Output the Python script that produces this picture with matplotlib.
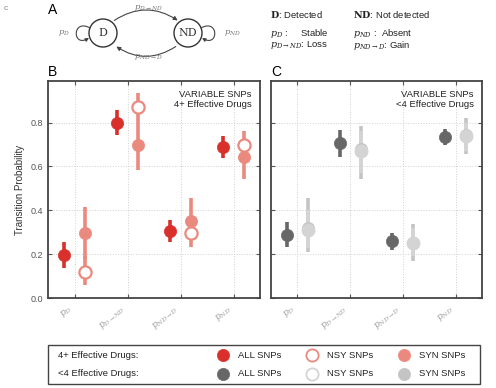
import numpy as np
import matplotlib.pyplot as plt
from matplotlib.patches import Circle, FancyArrowPatch, Rectangle
from matplotlib.path import Path

# transition labels
trans = [r'$p_{D}$', r'$p_{D\rightarrow ND}$', r'$p_{ND\rightarrow D}$', r'$p_{ND}$']

# panel B: 4+ effective drugs  (value, low, high)
b_all = [0.195, 0.80, 0.306, 0.687]
b_all_lo = [0.135, 0.742, 0.257, 0.637]
b_all_hi = [0.254, 0.858, 0.358, 0.739]
b_nsy = [0.119, 0.873, 0.296, 0.698]
b_nsy_lo = [0.059, 0.80, 0.233, 0.66]
b_nsy_hi = [0.19, 0.937, 0.33, 0.762]
b_syn = [0.296, 0.698, 0.350, 0.643]
b_syn_lo = [0.18, 0.582, 0.31, 0.541]
b_syn_hi = [0.414, 0.80, 0.457, 0.70]

# panel C: <4 effective drugs
c_all = [0.288, 0.706, 0.259, 0.736]
c_all_lo = [0.232, 0.645, 0.221, 0.699]
c_all_hi = [0.349, 0.765, 0.297, 0.773]
c_nsy = [0.31, 0.67, 0.25, 0.74]
c_nsy_lo = [0.23, 0.57, 0.19, 0.67]
c_nsy_hi = [0.40, 0.76, 0.32, 0.80]
c_syn = [0.32, 0.678, 0.253, 0.744]
c_syn_lo = [0.212, 0.541, 0.171, 0.657]
c_syn_hi = [0.456, 0.783, 0.338, 0.823]

red = '#d9302b'
salmon = '#ea8a7e'
dgray = '#676767'
lgray = '#c4c4c4'
nsygray = '#d4d4d4'

W, H = 496, 388
fig = plt.figure(figsize=(W / 100, H / 100), dpi=100)
plt.rcParams['font.family'] = ['Liberation Sans', 'DejaVu Sans']
plt.rcParams['mathtext.fontset'] = 'dejavuserif'


def err(ax, x, y, lo, hi, color, face, mew=0):
    y = np.array(y)
    yerr = [y - np.array(lo), np.array(hi) - y]
    ax.errorbar(x, y, yerr=yerr, fmt='o', color=color, ecolor=color,
                elinewidth=2.6, capsize=0, markersize=8.8,
                markerfacecolor=face, markeredgecolor=color,
                markeredgewidth=mew if mew else 0.5, zorder=3)


def style(ax, ylabels):
    ax.set_xlim(-0.5, 3.5)
    ax.set_ylim(0, 0.99)
    ax.set_yticks([0.0, 0.2, 0.4, 0.6, 0.8])
    ax.set_xticks(range(4))
    ax.set_xticklabels(trans, rotation=40, ha='right', color='#a0a0a0',
                       fontsize=7.5)
    ax.tick_params(direction='in', top=True, right=True, length=3,
                   color='#555555', labelsize=6.5, labelcolor='#555555')
    ax.tick_params(axis='x', pad=4, labelcolor='#a0a0a0')
    if not ylabels:
        ax.set_yticklabels([])
    ax.grid(True, linestyle=':', color='#d0d0d0', linewidth=0.7)
    ax.set_axisbelow(True)
    for s in ax.spines.values():
        s.set_color('#444444')
        s.set_linewidth(1.3)


x = np.arange(4)
axB = fig.add_axes([48 / W, 1 - 298 / H, 212 / W, 217 / H])
err(axB, x - 0.2, b_all, b_all_lo, b_all_hi, red, red)
err(axB, x + 0.2, b_syn, b_syn_lo, b_syn_hi, salmon, salmon)
err(axB, x + 0.2, b_nsy, b_nsy_lo, b_nsy_hi, salmon, 'white', mew=1.6)
style(axB, True)
axB.set_ylabel('Transition Probability', fontsize=7, color='#333333')
axB.text(0.96, 0.96, 'VARIABLE SNPs\n4+ Effective Drugs', transform=axB.transAxes,
         ha='right', va='top', fontsize=6.8, color='#222222', linespacing=1.2)

axC = fig.add_axes([271 / W, 1 - 298 / H, 211 / W, 217 / H])
err(axC, x - 0.2, c_all, c_all_lo, c_all_hi, dgray, dgray)
err(axC, x + 0.2, c_syn, c_syn_lo, c_syn_hi, lgray, lgray)
err(axC, x + 0.2, c_nsy, c_nsy_lo, c_nsy_hi, nsygray, nsygray, mew=1.2)
style(axC, False)
axC.text(0.96, 0.96, 'VARIABLE SNPs\n<4 Effective Drugs', transform=axC.transAxes,
         ha='right', va='top', fontsize=6.8, color='#222222', linespacing=1.2)

# overlay in pixel coordinates for diagram, panel letters, legend
ov = fig.add_axes([0, 0, 1, 1], zorder=-1)
ov.set_xlim(0, W)
ov.set_ylim(H, 0)
ov.axis('off')

ov.text(4, 8, 'c', fontsize=6, color='#888888', va='center')
ov.text(48, 10, 'A', fontsize=10, va='center')
ov.text(48, 72, 'B', fontsize=10, va='center')
ov.text(271, 72, 'C', fontsize=10, va='center')

# state diagram
dc, ndc, r = (103, 33), (188, 33), 14
for (cx, cy), lab in [(dc, 'D'), (ndc, 'ND')]:
    ov.add_patch(Circle((cx, cy), r, fill=False, ec='#333333', lw=1.0))
    ov.text(cx, cy, lab, ha='center', va='center', fontsize=8,
            family='DejaVu Serif', color='#333333')
ov.add_patch(FancyArrowPatch((112, 22), (180, 22), connectionstyle='arc3,rad=-0.35',
                             arrowstyle='-|>', mutation_scale=6, lw=0.8, color='#444444'))
ov.add_patch(FancyArrowPatch((178, 45), (114, 45), connectionstyle='arc3,rad=-0.35',
                             arrowstyle='-|>', mutation_scale=6, lw=0.8, color='#444444'))
loopL = Path([(90, 28), (72, 18), (72, 48), (89, 38)],
             [Path.MOVETO, Path.CURVE4, Path.CURVE4, Path.CURVE4])
loopR = Path([(201, 28), (219, 18), (219, 48), (202, 38)],
             [Path.MOVETO, Path.CURVE4, Path.CURVE4, Path.CURVE4])
for p in (loopL, loopR):
    ov.add_patch(FancyArrowPatch(path=p, arrowstyle='-|>', mutation_scale=5,
                                 lw=0.8, color='#444444'))
ov.text(148, 8, r'$p_{D\rightarrow ND}$', ha='center', va='center', fontsize=6, color='#777777')
ov.text(148, 57, r'$p_{ND\rightarrow D}$', ha='center', va='center', fontsize=6, color='#777777')
ov.text(70, 33, r'$p_{D}$', ha='right', va='center', fontsize=6, color='#777777')
ov.text(224, 33, r'$p_{ND}$', ha='left', va='center', fontsize=6, color='#777777')

# key text
kw = dict(fontsize=6.8, va='center', color='#222222')
ov.text(270, 15, r'$\mathbf{D}$: Detected', **kw)
ov.text(353, 15, r'$\mathbf{ND}$: Not detected', **kw)
ov.text(270, 33, r'$p_{D}$ :     Stable', **kw)
ov.text(270, 45, r'$p_{D\rightarrow ND}$: Loss', **kw)
ov.text(353, 33, r'$p_{ND}$ :  Absent', **kw)
ov.text(353, 45, r'$p_{ND\rightarrow D}$: Gain', **kw)

# legend box
leg_rows = ['4+ Effective Drugs:', '<4 Effective Drugs:']
leg_names = ['ALL SNPs', 'NSY SNPs', 'SYN SNPs']
leg_face = [[red, 'white', salmon], [dgray, 'white', lgray]]
leg_edge = [[red, salmon, salmon], [dgray, nsygray, lgray]]
leg_x = [223, 312, 404]
ov.add_patch(Rectangle((48, 345), 432, 39, fill=False, ec='#444444', lw=1.0))
for i, (row, fy) in enumerate(zip(leg_rows, [355, 374])):
    ov.text(58, fy, row, fontsize=6.8, va='center', color='#222222')
    for j, name in enumerate(leg_names):
        ov.plot(leg_x[j], fy, 'o', markersize=8.8, markerfacecolor=leg_face[i][j],
                markeredgecolor=leg_edge[i][j], markeredgewidth=1.3 if j == 1 else 0.5)
        ov.text(leg_x[j] + 15, fy, name, fontsize=6.8, va='center', color='#222222')

fig.savefig('out.png', dpi=100)
